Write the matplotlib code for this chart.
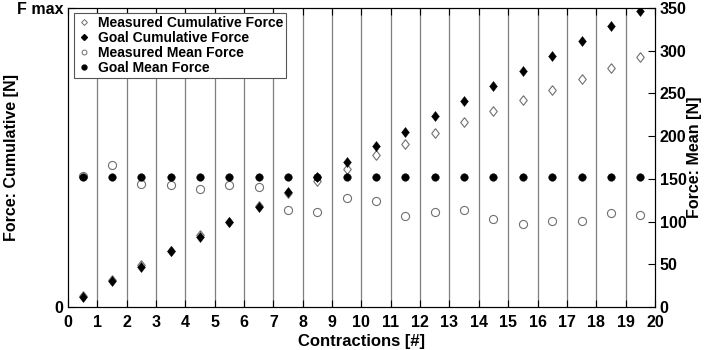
import matplotlib
matplotlib.use('Agg')
import matplotlib.pyplot as plt
from matplotlib.lines import Line2D

plt.rcParams['font.family'] = ['Liberation Sans', 'DejaVu Sans']
plt.rcParams['font.weight'] = 'bold'

# contraction centres
contractions = [i + 0.5 for i in range(20)]

# values (cumulative on normalised 0..F max scale, mean in N)
measured_cum = [13, 31, 49, 66, 84, 100, 118, 133, 147, 162,
                178, 191, 204, 217, 230, 242, 254, 267, 280, 293]
goal_cum = [12, 30, 47, 65, 82, 100, 117.5, 135, 152.5, 170,
            188, 205, 223.5, 241, 259, 276, 293.5, 311.5, 329, 347]
measured_mean = [153, 166.5, 143.5, 143, 138, 143, 140.5, 113.5, 111, 127.5,
                 124, 106.5, 111.5, 114, 103, 97.5, 101, 100.5, 109.5, 107.5]
goal_mean = [152] * 20

diamond = [(0, 1), (0.78, 0), (0, -1), (-0.78, 0), (0, 1)]

fig = plt.figure(figsize=(7.08, 3.5), dpi=100)
ax = fig.add_axes([0.096, 0.123, 0.829, 0.854])
ax2 = ax.twinx()

for x in range(1, 20):
    ax.axvline(x, color='#7f7f7f', lw=0.9, zorder=0)

ax.scatter(contractions, measured_cum, marker=diamond, s=48, facecolor='white',
           edgecolor='#707070', linewidths=0.8, zorder=2)
ax.scatter(contractions, goal_cum, marker=diamond, s=52, facecolor='black',
           edgecolor='black', linewidths=0.3, zorder=3)
ax2.scatter(contractions, measured_mean, marker='o', s=34, facecolor='white',
            edgecolor='#707070', linewidths=0.8, zorder=2)
ax2.scatter(contractions, goal_mean, marker='o', s=30, facecolor='black',
            edgecolor='black', linewidths=0.3, zorder=3)

ax.set_xlim(0, 20)
ax.set_ylim(0, 350)
ax2.set_ylim(0, 350)
ax.set_xticks(range(0, 21))
ax.set_yticks([0, 350])
ax.set_yticklabels(['0', 'F max'])
ax2.set_yticks(range(0, 351, 50))

ax.tick_params(axis='both', direction='in', labelsize=11.5, top=True, length=5)
ax.tick_params(axis='x', pad=6)
ax2.tick_params(axis='y', direction='in', labelsize=11.5, length=5)
for t in ax.get_xticklabels() + ax.get_yticklabels() + ax2.get_yticklabels():
    t.set_fontweight('bold')

ax.set_xlabel('Contractions [#]', fontsize=12, fontweight='bold', labelpad=3)
ax.set_ylabel('Force: Cumulative [N]', fontsize=11.5, fontweight='bold')
ax2.set_ylabel('Force: Mean [N]', fontsize=11.5, fontweight='bold', rotation=90)
ax.yaxis.set_label_coords(-0.083, 0.5)
ax2.yaxis.set_label_coords(1.055, 0.5)

handles = [
    Line2D([], [], ls='none', marker='D', ms=3, mfc='white', mec='#707070', mew=0.7),
    Line2D([], [], ls='none', marker='D', ms=3, mfc='black', mec='black'),
    Line2D([], [], ls='none', marker='o', ms=3.5, mfc='white', mec='#707070', mew=0.7),
    Line2D([], [], ls='none', marker='o', ms=3.5, mfc='black', mec='black'),
]
labels = ['Measured Cumulative Force', 'Goal Cumulative Force',
          'Measured Mean Force', 'Goal Mean Force']
leg = ax2.legend(handles, labels, loc='upper left', bbox_to_anchor=(0.004, 0.997),
                 fancybox=False, edgecolor='#555555', framealpha=1,
                 prop={'weight': 'bold', 'size': 10}, handlelength=1.0,
                 handletextpad=0.5, borderpad=0.2, labelspacing=0.08,
                 borderaxespad=0.3)
leg.get_frame().set_linewidth(0.8)

fig.savefig('out.png', dpi=100)
